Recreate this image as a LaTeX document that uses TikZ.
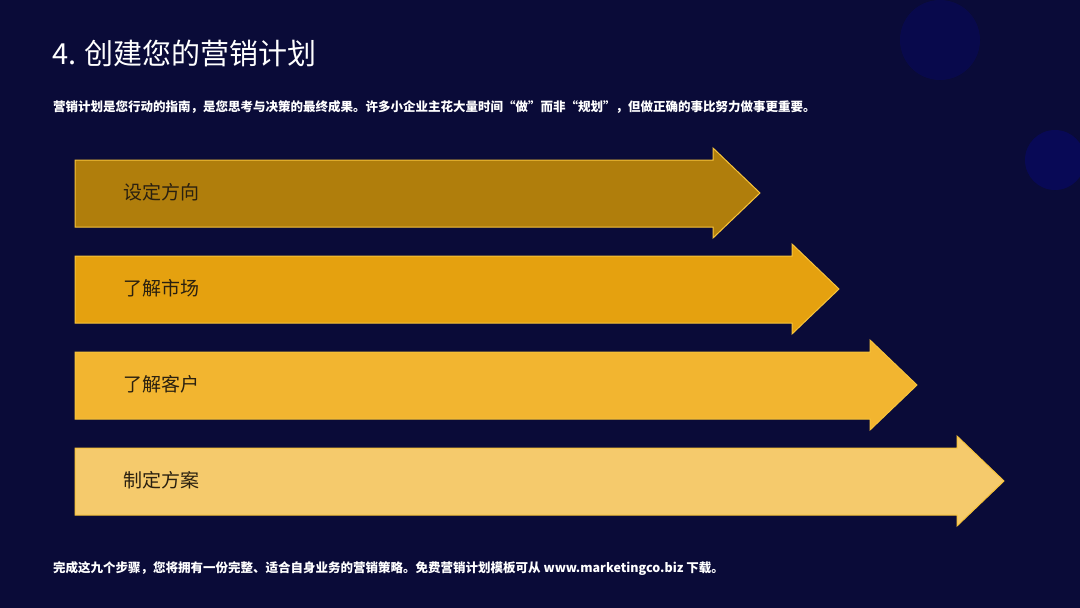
\documentclass[tikz,border=0pt]{standalone}
\usepackage{fontspec}
\newfontfamily\cjk{Noto Sans CJK SC}
\definecolor{bg}{HTML}{0A0B38}
\definecolor{aone}{HTML}{B07E0C}
\definecolor{atwo}{HTML}{E5A10F}
\definecolor{athree}{HTML}{F2B530}
\definecolor{afour}{HTML}{F5CA6C}
\definecolor{edge}{HTML}{F7C33A}
\definecolor{lbl}{HTML}{2A2010}
\tikzset{
  arr/.style={draw=edge, line width=1pt},
  lab/.style={anchor=west, font=\cjk\fontsize{19}{22}\selectfont, text=lbl, inner sep=0},
  wtext/.style={anchor=west, text=white, inner sep=0}
}
\newcommand{\myarrow}[5]{% name, body right x, top y, fill, label
  \fill[#4] (75,-#3) -- (#2,-#3) -- (#2,-#3+12) -- (#2+47,-#3-33) -- (#2,-#3-78) -- (#2,-#3-67) -- (75,-#3-67) -- cycle;
  \draw[arr] (75,-#3) -- (#2,-#3) -- (#2,-#3+12) -- (#2+47,-#3-33) -- (#2,-#3-78) -- (#2,-#3-67) -- (75,-#3-67) -- cycle;
  \node[lab] (#1) at (123,-#3-32) {#5};
}
\begin{document}
\begin{tikzpicture}[x=1pt,y=1pt]
\fill[bg] (0,0) rectangle (1080,-608);
\useasboundingbox (0,0) rectangle (1080,-608);
\fill[blue!30!bg, opacity=0.5] (1055,-160) circle (30);
\fill[blue!20!bg, opacity=0.5] (940,-40) circle (40);
\node[wtext, font=\cjk\fontsize{29}{34}\selectfont] (title) at (52,-53) {4. 创建您的营销计划};
\node[wtext, font=\cjk\bfseries\fontsize{12.5}{15}\selectfont] (sub) at (53,-107) {营销计划是您行动的指南，是您思考与决策的最终成果。许多小企业主花大量时间“做”而非“规划”，但做正确的事比努力做事更重要。};
\myarrow{a1}{713}{160}{aone}{设定方向}
\myarrow{a2}{792}{256}{atwo}{了解市场}
\myarrow{a3}{870}{352}{athree}{了解客户}
\myarrow{a4}{957}{448}{afour}{制定方案}
\node[wtext, font=\cjk\bfseries\fontsize{12.5}{15}\selectfont] (foot) at (53,-569) {完成这九个步骤，您将拥有一份完整、适合自身业务的营销策略。免费营销计划模板可从 www.marketingco.biz 下载。};
\end{tikzpicture}
\end{document}
